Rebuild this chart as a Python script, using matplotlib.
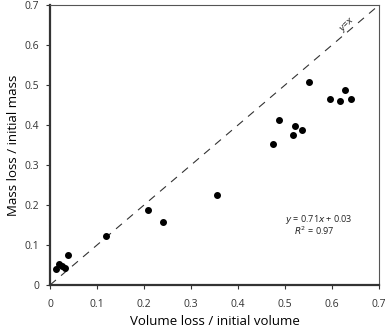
import matplotlib
matplotlib.use("Agg")
import matplotlib.pyplot as plt

vol_loss = [0.012, 0.020, 0.025, 0.032, 0.038, 0.119, 0.208, 0.241, 0.355,
            0.474, 0.487, 0.516, 0.521, 0.537, 0.552, 0.595, 0.618, 0.628, 0.640]
mass_loss = [0.040, 0.052, 0.048, 0.043, 0.075, 0.122, 0.187, 0.158, 0.224,
             0.352, 0.412, 0.376, 0.398, 0.388, 0.508, 0.465, 0.460, 0.488, 0.465]
ticks = [0, 0.1, 0.2, 0.3, 0.4, 0.5, 0.6, 0.7]
tick_labels = ["0", "0.1", "0.2", "0.3", "0.4", "0.5", "0.6", "0.7"]

plt.rcParams['font.family'] = ['Open Sans', 'DejaVu Sans']
fig = plt.figure(figsize=(3.88, 3.29), dpi=100)
ax = fig.add_axes([0.1289, 0.1337, 0.848, 0.851])

ax.plot([0, 0.7], [0, 0.7], color='#333333', lw=0.8, dashes=(7, 6))
ax.scatter(vol_loss, mass_loss, s=16, color='black', zorder=3)

ax.set_xlim(0, 0.7)
ax.set_ylim(0, 0.7)
ax.set_xticks(ticks)
ax.set_xticklabels(tick_labels)
ax.set_yticks(ticks)
ax.set_yticklabels(tick_labels)
ax.tick_params(labelsize=7.5, colors='#333333', length=3, width=0.8, direction='out')
ax.tick_params(axis='x', pad=7)
ax.tick_params(axis='y', pad=5)

for s in ['left', 'bottom']:
    ax.spines[s].set_linewidth(1.6)
    ax.spines[s].set_color('#333333')
for s in ['top', 'right']:
    ax.spines[s].set_linewidth(0.8)
    ax.spines[s].set_color('#555555')

ax.set_xlabel("Volume loss / initial volume", fontsize=9.5, labelpad=4)
ax.set_ylabel("Mass loss / initial mass", fontsize=9.5, labelpad=3)

ax.text(0.50, 0.165, r"$y$ = 0.71$x$ + 0.03", fontsize=6.5, va='center', ha='left', color='#222222')
ax.text(0.519, 0.135, r"$R^2$ = 0.97", fontsize=6.5, va='center', ha='left', color='#222222')
ax.text(0.633, 0.652, r"$y$=$x$", fontsize=6.5, rotation=45, ha='center', va='center', color='#222222')

fig.savefig("out.png", dpi=100)
